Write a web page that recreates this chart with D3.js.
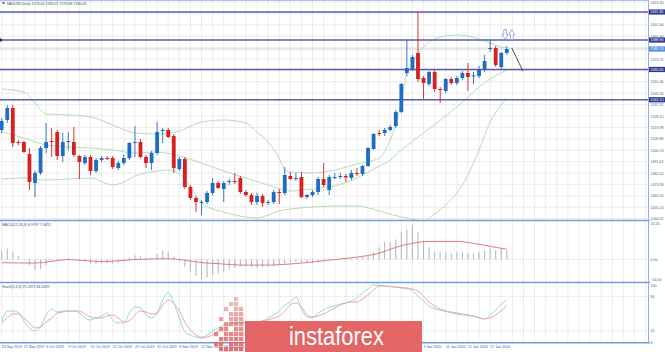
<!DOCTYPE html>
<html><head><meta charset="utf-8">
<script src="https://cdn.jsdelivr.net/npm/d3@7"></script>
<style>body{margin:0;background:#fff}svg{display:block}text{font-family:"Liberation Sans",Arial,sans-serif}</style>
</head><body>
<svg id="c" width="665" height="352"></svg>
<script>
// ---------- DATA ----------
const opens=[1516.9,1524.9,1534.5,1507.3,1507.3,1497.7,1474.5,1482.5,1502.5,1508.1,1515.3,1496.1,1507.3,1507.3,1496.1,1490.5,1495.3,1484.1,1492.9,1494.5,1494.5,1486.5,1490.5,1494.5,1506.5,1507.3,1495.3,1490.5,1498.5,1516.1,1516.9,1512.1,1485.7,1493.7,1471.3,1462.5,1458.5,1459.3,1466.5,1474.5,1469.7,1475.3,1476.1,1478.5,1467.3,1464.9,1459.3,1464.1,1458.5,1459.3,1467.3,1466.5,1480.1,1477.7,1479.3,1463.3,1464.9,1467.3,1477.7,1468.9,1478.5,1479.3,1480.1,1478.5,1482.5,1481.7,1488.1,1501.7,1514.5,1514.5,1516.9,1520.1,1531.3,1562.5,1565.7,1578.5,1558.5,1553.7,1563.3,1549.7,1548.1,1557.7,1554.5,1558.5,1562.5,1560.1,1560.1,1564.9,1582.1,1582.5,1567.3,1578.5];
const highs=[1526.5,1536.9,1536.9,1508.9,1508.1,1502.5,1484.1,1504.1,1522.5,1518.5,1516.9,1514.5,1515.3,1519.3,1496.9,1496.9,1496.9,1494.5,1496.1,1496.1,1496.1,1492.1,1496.9,1507.3,1520.1,1509.7,1496.9,1500.1,1523.3,1518.5,1518.5,1513.7,1495.3,1495.3,1472.9,1464.1,1460.9,1468.1,1478.5,1476.1,1476.1,1477.7,1482.5,1480.1,1468.9,1466.5,1466.5,1465.7,1460.9,1468.9,1469.7,1487.3,1483.3,1482.5,1483.3,1465.7,1468.9,1479.3,1490.5,1480.9,1482.5,1482.5,1481.7,1484.9,1486.5,1488.9,1503.3,1514.5,1516.9,1518.5,1520.9,1532.9,1554.5,1588.9,1576.9,1611.3,1560.1,1564.1,1564.9,1551.3,1558.5,1559.3,1560.1,1564.1,1570.5,1563.3,1568.1,1576.9,1588.9,1584.1,1579.3,1584.1];
const lows=[1514.5,1522.5,1503.3,1504.9,1498.5,1468.9,1463.3,1480.9,1498.5,1495.3,1492.9,1491.3,1500.9,1495.3,1477.7,1488.9,1480.9,1482.5,1491.3,1492.9,1485.7,1484.9,1488.9,1492.9,1495.3,1494.5,1486.5,1484.9,1496.9,1506.5,1510.5,1482.5,1484.1,1469.7,1460.9,1451.3,1448.9,1457.7,1464.9,1469.7,1459.3,1472.9,1473.7,1465.7,1463.3,1456.9,1456.9,1455.3,1456.9,1457.7,1457.7,1464.9,1476.9,1476.1,1462.5,1461.7,1463.3,1464.9,1471.3,1464.9,1477.7,1477.7,1475.3,1476.9,1480.1,1480.1,1487.3,1500.9,1512.1,1512.1,1516.1,1518.5,1530.5,1560.1,1564.1,1555.3,1541.7,1552.1,1547.3,1538.5,1546.5,1552.9,1552.9,1556.9,1548.1,1553.7,1558.5,1563.3,1579.3,1567.3,1565.7,1576.9];
const closes=[1524.1,1534.5,1506.5,1506.9,1499.3,1475.3,1482.5,1502.5,1507.3,1507.3,1496.1,1507.3,1508.1,1496.9,1491.3,1495.3,1484.1,1492.9,1494.5,1493.7,1487.3,1490.5,1494.5,1506.5,1507.3,1495.3,1490.5,1498.5,1515.3,1516.9,1511.3,1486.5,1493.7,1471.3,1462.5,1459.3,1459.3,1466.5,1474.5,1470.5,1474.5,1476.1,1475.3,1467.3,1464.9,1459.3,1464.1,1458.5,1459.3,1467.3,1466.5,1480.9,1477.7,1478.5,1463.3,1464.9,1467.3,1477.7,1472.9,1479.3,1479.3,1480.1,1478.9,1482.5,1481.7,1488.1,1502.5,1513.7,1513.7,1516.9,1519.3,1531.3,1553.7,1566.5,1575.3,1557.7,1554.5,1563.3,1549.7,1548.9,1557.7,1554.5,1558.5,1562.5,1559.3,1560.5,1564.9,1572.1,1582.5,1568.9,1578.5,1581.7];

// Bollinger bands, read at sample bars
const bbUpperIdx=[0,4,6,8,12,16,20,24,28,32,36,40,44,46,48,50,51,52,56,60,64,68,70,71,72,73,74,76,78,80,82,84,86,88,90,91];
const bbUpper=[1549.7,1547.3,1538.5,1529.7,1528.9,1527.3,1520.9,1514.5,1513.7,1516.1,1523.3,1524.9,1522.5,1515.3,1507.3,1494.5,1484.9,1483.3,1482.5,1484.9,1489.7,1494.5,1508.9,1520.9,1540.9,1562.5,1571.3,1583.3,1589.7,1592.1,1592.9,1592.1,1589.7,1586.5,1583.3,1582.5];
const bbMidIdx=[0,4,8,12,16,20,24,28,32,36,40,44,48,52,56,60,64,68,70,72,76,80,82,84,86,88,91];
const bbMid=[1515.3,1510.5,1504.9,1503.3,1502.5,1500.9,1498.5,1499.3,1496.1,1490.5,1484.1,1478.5,1472.9,1468.1,1469.7,1472.1,1478.5,1488.1,1492.9,1500.9,1514.5,1528.1,1535.3,1543.3,1551.3,1557.7,1564.9];
const bbLowerIdx=[0,4,8,12,16,20,22,24,28,30,32,33,35,36,40,44,46,48,50,52,56,60,64,68,72,74,76,78,80,82,84,86,88,90,91];
const bbLower=[1477.7,1478.5,1476.9,1477.7,1478.5,1472.9,1475.3,1480.1,1484.1,1484.9,1481.7,1477.7,1464.9,1458.5,1451.3,1447.3,1446.5,1448.9,1452.1,1453.7,1455.3,1456.1,1456.1,1452.1,1447.3,1445.7,1444.1,1449.7,1456.9,1466.5,1480.9,1500.9,1523.3,1536.9,1542.5];

// MACD histogram (per bar) and signal (sampled)
const macdHist=[6.0,7.5,5.0,2.5,0.0,-4.0,-7.5,-6.5,-4.0,-1.5,-1.0,-0.3,0.8,0.3,-1.2,-1.5,-3.0,-3.0,-2.6,-2.4,-2.8,-2.5,-1.2,1.2,2.8,2.2,0.8,1.0,3.8,6.0,5.2,1.8,-1.2,-5.0,-8.5,-11.5,-13.5,-12.5,-10.5,-9.5,-8.5,-7.0,-5.5,-4.8,-4.8,-5.2,-5.5,-5.2,-5.0,-4.5,-3.8,-3.2,-2.0,-1.6,-1.8,-2.6,-2.6,-2.0,-0.8,-0.6,0.0,0.4,0.8,0.8,1.4,1.6,2.6,5.2,8.4,12.4,11.8,13.8,18.6,20.6,24.0,18.6,13.1,8.4,5.0,5.0,5.0,4.3,5.0,5.0,4.3,4.3,5.0,6.3,7.7,6.3,7.7,6.3];
const macdSigIdx=[0,6,12,18,24,30,33,36,39,43,48,54,59,64,68,71,74,77,82,85,88,91];
const macdSig=[-2.2,-2.5,-0.1,-1.5,-0.1,0.5,-0.5,-2.2,-2.9,-3.9,-3.9,-2.5,-0.5,1.6,4.3,8.4,11.1,12.4,12.4,11.1,9.0,7.0];

// Stochastic
const stochMain=[35.4,54.6,54.6,52.0,37.2,25.0,19.7,26.7,47.6,58.1,52.9,54.6,54.6,54.6,51.1,42.4,38.9,42.4,45.9,51.1,38.9,33.7,33.7,51.1,61.6,59.9,47.6,42.4,51.1,73.8,86.0,68.6,42.4,18.0,12.7,9.2,9.2,12.7,19.7,25.0,30.2,33.7,35.4,35.4,35.4,35.4,35.4,37.2,42.4,47.6,54.6,65.1,70.3,79.1,58.1,44.2,42.4,51.1,56.4,61.6,63.4,66.8,68.6,72.1,77.3,86.0,93.0,100,99.1,98.3,97.4,96.5,94.8,93.0,89.5,80.8,72.1,63.4,58.1,56.4,53.8,51.1,49.4,47.6,46.8,45.9,42.4,40.7,47.6,56.4,66.8,73.8];
const stochSig=[33.7,42.4,49.4,49.4,42.4,33.7,25.0,26.7,35.4,42.4,51.1,52.9,54.6,54.6,54.6,49.4,44.2,42.4,42.4,45.9,47.6,42.4,35.4,37.2,47.6,54.6,52.9,49.4,51.1,65.1,73.8,67.7,54.6,35.4,21.5,12.7,7.5,9.2,12.7,19.7,25.0,30.2,33.7,33.7,33.7,33.7,35.4,37.2,38.9,42.4,45.9,54.6,65.1,68.6,61.6,47.6,44.2,45.9,49.4,54.6,59.9,65.1,68.6,70.3,70.3,75.7,82.5,91.3,98.3,98.3,97.4,96.5,95.6,94.8,93.0,89.5,80.8,70.3,63.4,58.1,54.6,52.9,51.1,49.4,47.6,45.9,43.3,40.7,42.4,47.6,54.6,65.1];

// axis ticks and labels
const mainTicks=[1619.30,1610.18,1601.06,1591.94,1582.82,1573.70,1564.58,1555.46,1546.34,1537.22,1528.10,1518.98,1509.86,1500.74,1491.62,1482.50,1473.38,1464.26,1455.14,1446.02];
const macdTicks=[25.2,0,-14.0];
const stochTicks=[100,80,20,0];
const levels=[1611.30,1588.90,1565.30,1541.10];
const lastPrice=1581.70;
// date labels visible in the reference (the others are hidden under the watermark)
const dateIdx=[0,4,8,12,16,20,24,28,32,36,40,76,80,84,88];
const dateLabels=["23 Sep 2019","27 Sep 2019","3 Oct 2019","9 Oct 2019","15 Oct 2019","21 Oct 2019","25 Oct 2019","31 Oct 2019","6 Nov 2019","12 Nov 2019","18 Nov 2019","9 Jan 2020","15 Jan 2020","21 Jan 2020","27 Jan 2020"];
const titleMain="XAUUSD,Daily  1578.00 1583.07 1576.86 1580.45";
const titleMacd="MACD(12,26,9) 6.9797 7.9451";
const titleStoch="Stoch(5,3,3) 75.2875 66.6499";
// annotations (bar index, price)
const trendLine=[{i:91.9,p:1582.5},{i:93.9,p:1564.1}];
const arrowIcons=[{i:90.7,p:1593.3,dir:-1},{i:91.9,p:1593.3,dir:1}];

// ---------- DRAWING ----------
const svg=d3.select('#c');
const AX=648;
const x=d3.scaleLinear().domain([0,91]).range([1.7,506.8]);
const yMain=d3.scaleLinear().domain([1444.9,1620.9]).range([220,0]);
const yMacd=d3.scaleLinear().domain([-15.56,26.5]).range([282,221]);
const yStoch=d3.scaleLinear().domain([0,100]).range([342.3,285]);

const defs=svg.append('defs');
[['cMain',0,0,AX,220],['cMacd',0,221,AX,61],['cStoch',0,283,AX,59]].forEach(c=>{
  defs.append('clipPath').attr('id',c[0]).append('rect').attr('x',c[1]).attr('y',c[2]).attr('width',c[3]).attr('height',c[4]);
});

const grid=svg.append('g').attr('stroke','#e4e4e4').attr('stroke-width',0.7);
d3.range(0,140,2).filter(i=>x(i)<AX).forEach(i=>{
  grid.append('line').attr('x1',x(i)).attr('x2',x(i)).attr('y1',0).attr('y2',342);
});
mainTicks.forEach(t=>grid.append('line').attr('x1',0).attr('x2',AX).attr('y1',yMain(t)).attr('y2',yMain(t)));
grid.append('line').attr('x1',0).attr('x2',AX).attr('y1',yMacd(0)).attr('y2',yMacd(0)).attr('stroke-dasharray','1,1').attr('stroke','#cfcfcf');
[80,20].forEach(t=>grid.append('line').attr('x1',0).attr('x2',AX).attr('y1',yStoch(t)).attr('y2',yStoch(t)).attr('stroke-dasharray','1,1').attr('stroke','#cfcfcf'));

// Bollinger bands
const gMain=svg.append('g').attr('clip-path','url(#cMain)');
const bandLine=d3.line().x(d=>x(d[0])).y(d=>yMain(d[1])).curve(d3.curveMonotoneX);
[[bbUpperIdx,bbUpper],[bbMidIdx,bbMid],[bbLowerIdx,bbLower]].forEach(b=>{
  gMain.append('path').attr('d',bandLine(b[0].map((k,j)=>[k,b[1][j]])))
    .attr('fill','none').attr('stroke','#a9d9b4').attr('stroke-width',0.9);
});

// current price line
gMain.append('line').attr('x1',0).attr('x2',AX).attr('y1',yMain(lastPrice)).attr('y2',yMain(lastPrice)).attr('stroke','#c9c9c9').attr('stroke-width',0.8);

// level lines
levels.forEach(l=>{
  gMain.append('line').attr('x1',0).attr('x2',AX).attr('y1',yMain(l)).attr('y2',yMain(l)).attr('stroke','#5c5ca8').attr('stroke-width',1.6);
});
svg.append('path').attr('d',`M0,${yMain(levels[1])-2}L3,${yMain(levels[1])}L0,${yMain(levels[1])+2}Z`).attr('fill','#2d2d70');

// candles
const bull='#1d6cc6', bear='#d91f1f';
const gC=gMain.append('g');
closes.forEach((c,i)=>{
  const o=opens[i], col=c>=o?bull:bear;
  gC.append('line').attr('x1',x(i)).attr('x2',x(i)).attr('y1',yMain(highs[i])).attr('y2',yMain(lows[i])).attr('stroke',col).attr('stroke-width',0.9);
  const yt=yMain(Math.max(o,c)), yb=yMain(Math.min(o,c));
  gC.append('rect').attr('x',x(i)-1.9).attr('width',3.8).attr('y',yt).attr('height',Math.max(1,yb-yt)).attr('fill',col);
});

// annotations
gMain.append('line').attr('x1',x(trendLine[0].i)).attr('y1',yMain(trendLine[0].p)).attr('x2',x(trendLine[1].i)).attr('y2',yMain(trendLine[1].p)).attr('stroke','#3a3a3a').attr('stroke-width',0.9);
arrowIcons.forEach(a=>{
  const cx=x(a.i), cy=yMain(a.p), s=a.dir;
  const p=`M${cx-1.4},${cy+5*s}L${cx+1.4},${cy+5*s}L${cx+1.4},${cy}L${cx+3},${cy}L${cx},${cy-5*s}L${cx-3},${cy}L${cx-1.4},${cy}Z`;
  gMain.append('path').attr('d',p).attr('fill','#fff').attr('stroke','#7b9ddf').attr('stroke-width',0.8);
});

// MACD
const gM=svg.append('g').attr('clip-path','url(#cMacd)');
macdHist.forEach((v,i)=>{
  gM.append('line').attr('x1',x(i)).attr('x2',x(i)).attr('y1',yMacd(0)).attr('y2',yMacd(v)).attr('stroke','#b9b9b9').attr('stroke-width',1.1);
});
gM.append('path').attr('d',d3.line().x(d=>x(d[0])).y(d=>yMacd(d[1])).curve(d3.curveMonotoneX)(macdSigIdx.map((k,j)=>[k,macdSig[j]])))
  .attr('fill','none').attr('stroke','#e36b6b').attr('stroke-width',0.9);

// Stochastic
const gS=svg.append('g').attr('clip-path','url(#cStoch)');
const sLine=d3.line().x((d,i)=>x(i)).y(d=>yStoch(d)).curve(d3.curveMonotoneX);
gS.append('path').attr('d',sLine(stochMain)).attr('fill','none').attr('stroke','#8ad6d6').attr('stroke-width',0.9);
gS.append('path').attr('d',sLine(stochSig)).attr('fill','none').attr('stroke','#ec9a9a').attr('stroke-width',0.9);

// panel borders
const bord=svg.append('g').attr('stroke','#6f9fdb');
bord.append('line').attr('x1',0).attr('x2',AX).attr('y1',0.5).attr('y2',0.5).attr('stroke-width',1).attr('stroke','#a9c6ea');
[220.5,282.5,342.8].forEach(yy=>bord.append('line').attr('x1',0).attr('x2',AX+2).attr('y1',yy).attr('y2',yy).attr('stroke-width',1.5));
bord.append('line').attr('x1',AX+0.5).attr('x2',AX+0.5).attr('y1',0).attr('y2',343).attr('stroke-width',1).attr('stroke','#8fb4e3');

// axes (tick labels hidden where a price box covers them, as in the reference)
const boxPrices=levels.concat([lastPrice]);
const labelTicks=mainTicks.filter(t=>boxPrices.every(b=>Math.abs(yMain(t)-yMain(b))>3.5));
function styleAxis(g){
  g.select('.domain').remove();
  g.selectAll('text').attr('font-size','3.6px').attr('fill','#4a5d88').attr('font-family','Liberation Sans, Arial, sans-serif');
}
svg.append('g').attr('transform',`translate(${AX},0)`).call(d3.axisRight(yMain).tickValues(labelTicks).tickSize(0).tickPadding(2.5).tickFormat(d3.format('.2f'))).call(styleAxis);
svg.append('g').attr('transform',`translate(${AX},0)`).call(d3.axisRight(yMacd).tickValues(macdTicks).tickSize(0).tickPadding(2.5).tickFormat(d3.format('.2f'))).call(styleAxis);
svg.append('g').attr('transform',`translate(${AX},0)`).call(d3.axisRight(yStoch).tickValues(stochTicks).tickSize(0).tickPadding(2.5).tickFormat(d3.format('d'))).call(styleAxis);

// price boxes on the axis
function box(p,fill){
  const yy=yMain(p);
  svg.append('rect').attr('x',AX+1).attr('y',yy-2.6).attr('width',16).attr('height',5.2).attr('fill',fill);
  svg.append('text').attr('x',AX+2.5).attr('y',yy+1.3).attr('font-size','3.6px').attr('fill','#fff').text(d3.format('.2f')(p));
}
levels.forEach(l=>box(l,'#2f3a8a'));
box(lastPrice,'#5c90d6');

// date labels
const gx=svg.append('g');
dateIdx.forEach((k,j)=>{
  gx.append('text').attr('x',x(k)).attr('y',347.8).attr('font-size','3.6px').attr('fill','#4a5d88').text(dateLabels[j]);
});

// titles
svg.append('path').attr('d','M2,2.3L5,2.3L3.5,4.6Z').attr('fill','#3a4a80');
svg.append('text').attr('x',6.5).attr('y',4.8).attr('font-size','3.6px').attr('fill','#3a4a80').text(titleMain);
svg.append('text').attr('x',2).attr('y',225.8).attr('font-size','3.6px').attr('fill','#3a4a80').text(titleMacd);
svg.append('text').attr('x',2).attr('y',287.6).attr('font-size','3.6px').attr('fill','#3a4a80').text(titleStoch);

// watermark
const logo=["......","....x.","...xx.","..x.xx","...xxx",".x.xxx","..xxxx",".xx.xx","x.xxxx",".xxxxx","xx.xxx",".xxxxx"];
const wm=svg.append('g');
logo.forEach((row,r)=>row.split('').forEach((ch,c)=>{
  if(ch==='x') wm.append('rect').attr('x',214+c*5).attr('y',292+r*5).attr('width',4.2).attr('height',4.2).attr('fill','#e35f60').attr('opacity',0.35+0.05*r);
}));
wm.append('rect').attr('x',245).attr('y',321).attr('width',177).attr('height',31).attr('fill','#e46566');
wm.append('text').attr('x',289).attr('y',345).attr('font-size','25px').attr('fill','#fff')
  .attr('font-family','Roboto, "Open Sans", sans-serif').attr('font-weight',300)
  .attr('textLength',95).attr('lengthAdjust','spacingAndGlyphs').text('instaforex');
</script>
</body></html>
